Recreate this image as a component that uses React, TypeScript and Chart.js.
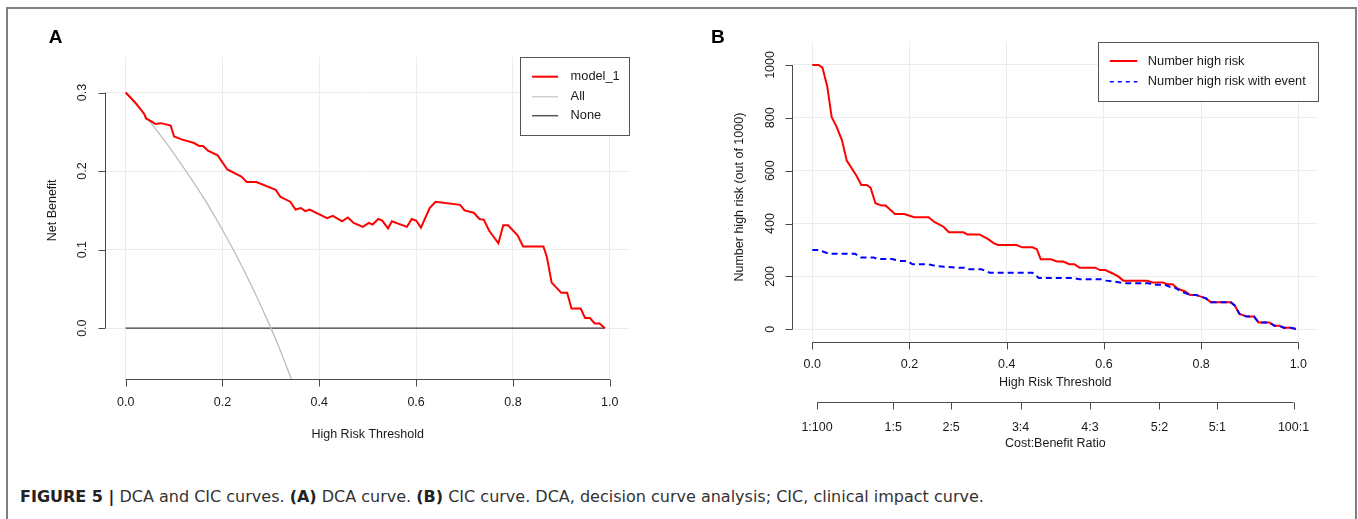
import React, { useEffect, useRef } from "react";
import { Chart, registerables } from "chart.js";

Chart.register(...registerables);

const FONT = "'Liberation Sans', Arial, Helvetica, sans-serif";
const AXIS_COLOR = "#4a4a4a";
const TEXT_COLOR = "#1a1a1a";
const GRID_COLOR = "#ececec";

// ---------------- Panel A : decision curve (DCA) ----------------
const thresholdsModel = [0, 0.02, 0.038, 0.042, 0.054, 0.061, 0.073, 0.093, 0.1, 0.117, 0.14, 0.152, 0.16, 0.17, 0.19, 0.21, 0.239, 0.25, 0.27, 0.31, 0.32, 0.34, 0.351, 0.362, 0.371, 0.38, 0.416, 0.428, 0.447, 0.459, 0.471, 0.49, 0.502, 0.51, 0.522, 0.53, 0.542, 0.55, 0.581, 0.591, 0.6, 0.61, 0.628, 0.64, 0.691, 0.7, 0.719, 0.731, 0.74, 0.751, 0.77, 0.78, 0.79, 0.81, 0.821, 0.863, 0.87, 0.88, 0.9, 0.912, 0.921, 0.94, 0.949, 0.959, 0.969, 0.979, 0.99];
const netBenefitModel = [0.3, 0.287, 0.273, 0.267, 0.263, 0.26, 0.261, 0.258, 0.244, 0.24, 0.236, 0.232, 0.232, 0.226, 0.22, 0.202, 0.193, 0.186, 0.186, 0.176, 0.167, 0.161, 0.151, 0.153, 0.149, 0.151, 0.14, 0.143, 0.136, 0.141, 0.134, 0.129, 0.134, 0.132, 0.139, 0.137, 0.127, 0.136, 0.129, 0.139, 0.137, 0.128, 0.153, 0.161, 0.157, 0.15, 0.147, 0.139, 0.138, 0.124, 0.108, 0.131, 0.131, 0.118, 0.104, 0.104, 0.091, 0.058, 0.045, 0.045, 0.025, 0.025, 0.013, 0.013, 0.006, 0.006, 0];
const thresholdsAll = [0, 0.02, 0.05, 0.08, 0.11, 0.14, 0.17, 0.2, 0.23, 0.26, 0.29, 0.31, 0.33, 0.35];
const netBenefitAll = [0.3, 0.286, 0.263, 0.239, 0.213, 0.186, 0.157, 0.125, 0.091, 0.054, 0.014, -0.014, -0.045, -0.077];
const thresholdsNone = [0, 0.99];
const netBenefitNone = [0, 0];
const xTicksA = [0, 0.2, 0.4, 0.6, 0.8, 1.0];
const xTickLabelsA = ["0.0", "0.2", "0.4", "0.6", "0.8", "1.0"];
const yTicksA = [0, 0.1, 0.2, 0.3];
const yTickLabelsA = ["0.0", "0.1", "0.2", "0.3"];
const legendLabelsA = ["model_1", "All", "None"];

// ---------------- Panel B : clinical impact curve (CIC) ----------------
const thresholdsHighRisk = [0, 0.013, 0.021, 0.031, 0.04, 0.05, 0.061, 0.071, 0.091, 0.101, 0.112, 0.12, 0.13, 0.143, 0.151, 0.17, 0.189, 0.21, 0.239, 0.252, 0.27, 0.281, 0.311, 0.319, 0.344, 0.361, 0.374, 0.382, 0.42, 0.432, 0.453, 0.462, 0.47, 0.491, 0.504, 0.516, 0.529, 0.539, 0.55, 0.582, 0.592, 0.603, 0.617, 0.63, 0.64, 0.689, 0.7, 0.722, 0.73, 0.741, 0.751, 0.768, 0.777, 0.789, 0.81, 0.82, 0.861, 0.869, 0.879, 0.894, 0.909, 0.918, 0.94, 0.951, 0.961, 0.97, 0.984, 0.995];
const numberHighRisk = [1000, 1000, 990, 918, 802, 767, 716, 638, 581, 546, 546, 536, 477, 468, 468, 436, 436, 424, 424, 405, 388, 367, 367, 359, 359, 342, 325, 319, 319, 310, 310, 303, 265, 265, 256, 256, 246, 246, 233, 233, 224, 224, 212, 199, 184, 184, 177, 177, 170, 170, 155, 142, 130, 130, 117, 102, 102, 90, 58, 48, 48, 26, 26, 13, 13, 6, 6, 0];
const thresholdsWithEvent = [0, 0.013, 0.034, 0.088, 0.1, 0.126, 0.134, 0.164, 0.18, 0.197, 0.206, 0.239, 0.252, 0.298, 0.313, 0.323, 0.348, 0.365, 0.453, 0.466, 0.537, 0.55, 0.596, 0.605, 0.63, 0.642, 0.693, 0.701, 0.726, 0.735, 0.743, 0.76, 0.777, 0.789, 0.81, 0.82, 0.861, 0.869, 0.879, 0.894, 0.909, 0.918, 0.94, 0.951, 0.961, 0.97, 0.984, 1.0];
const numberWithEvent = [300, 300, 286, 286, 272, 272, 266, 266, 258, 258, 246, 246, 240, 233, 233, 227, 227, 214, 214, 194, 194, 189, 189, 184, 178, 174, 174, 168, 168, 161, 161, 142, 130, 130, 117, 102, 102, 90, 58, 48, 48, 26, 26, 13, 13, 6, 6, 0];
const xTicksB = [0, 0.2, 0.4, 0.6, 0.8, 1.0];
const xTickLabelsB = ["0.0", "0.2", "0.4", "0.6", "0.8", "1.0"];
const yTicksB = [0, 200, 400, 600, 800, 1000];
const yTickLabelsB = ["0", "200", "400", "600", "800", "1000"];
const costBenefitThresholds = [0.0099, 0.1667, 0.2857, 0.4286, 0.5714, 0.7143, 0.8333, 0.9901];
const costBenefitLabels = ["1:100", "1:5", "2:5", "3:4", "4:3", "5:2", "5:1", "100:1"];
const legendLabelsB = ["Number high risk", "Number high risk with event"];

const pts = (xs: number[], ys: number[]) => xs.map((x, i) => ({ x, y: ys[i] }));

function text(ctx: CanvasRenderingContext2D, s: string, x: number, y: number, size: number, rotate = false, align: CanvasTextAlign = "center") {
  ctx.save();
  ctx.fillStyle = TEXT_COLOR;
  ctx.font = `${size}px ${FONT}`;
  ctx.textAlign = align;
  ctx.textBaseline = "middle";
  ctx.translate(x, y);
  if (rotate) ctx.rotate(-Math.PI / 2);
  ctx.fillText(s, 0, 0);
  ctx.restore();
}

function bottomAxis(ctx: CanvasRenderingContext2D, scale: any, y: number, values: number[], labels: string[], labelOff: number, title: string, titleOff: number) {
  const yy = Math.round(y) + 0.5;
  ctx.save();
  ctx.strokeStyle = AXIS_COLOR;
  ctx.lineWidth = 1;
  ctx.beginPath();
  ctx.moveTo(scale.getPixelForValue(values[0]), yy);
  ctx.lineTo(scale.getPixelForValue(values[values.length - 1]), yy);
  values.forEach((v) => {
    const px = Math.round(scale.getPixelForValue(v)) + 0.5;
    ctx.moveTo(px, yy);
    ctx.lineTo(px, yy + 7);
  });
  ctx.stroke();
  ctx.restore();
  values.forEach((v, i) => text(ctx, labels[i], scale.getPixelForValue(v), y + labelOff, 12.5));
  const mid = (scale.getPixelForValue(values[0]) + scale.getPixelForValue(values[values.length - 1])) / 2;
  text(ctx, title, mid, y + titleOff, 12.5);
}

function leftAxis(ctx: CanvasRenderingContext2D, scale: any, x: number, values: number[], labels: string[], labelOff: number, title: string, titleOff: number, titleY: number) {
  const xx = Math.round(x) - 0.5;
  ctx.save();
  ctx.strokeStyle = AXIS_COLOR;
  ctx.lineWidth = 1;
  ctx.beginPath();
  ctx.moveTo(xx, scale.getPixelForValue(values[0]));
  ctx.lineTo(xx, scale.getPixelForValue(values[values.length - 1]));
  values.forEach((v) => {
    const py = Math.round(scale.getPixelForValue(v)) + 0.5;
    ctx.moveTo(xx, py);
    ctx.lineTo(xx - 7, py);
  });
  ctx.stroke();
  ctx.restore();
  values.forEach((v, i) => text(ctx, labels[i], x - labelOff, scale.getPixelForValue(v), 12.5, true));
  text(ctx, title, x - titleOff, titleY, 12.5, true);
}

type LegendItem = { label: string; color: string; width: number; dash: number[] };

function legend(ctx: CanvasRenderingContext2D, right: number, top: number, w: number, h: number, items: LegendItem[], rowYs: number[], s0: number, s1: number, tx: number) {
  const left = right - w;
  ctx.save();
  ctx.fillStyle = "#ffffff";
  ctx.fillRect(left, top, w, h);
  ctx.strokeStyle = "#555555";
  ctx.lineWidth = 1;
  ctx.strokeRect(Math.round(left) + 0.5, Math.round(top) + 0.5, Math.round(w), Math.round(h));
  items.forEach((it, i) => {
    const y = top + rowYs[i];
    ctx.beginPath();
    ctx.strokeStyle = it.color;
    ctx.lineWidth = it.width;
    ctx.setLineDash(it.dash);
    ctx.moveTo(left + s0, y);
    ctx.lineTo(left + s1, y);
    ctx.stroke();
    ctx.setLineDash([]);
    text(ctx, it.label, left + tx, y, 12.8, false, "left");
  });
  ctx.restore();
}

const gridScale = (min: number, max: number, ticks: number[]) => ({
  type: "linear" as const,
  min,
  max,
  grid: { color: GRID_COLOR, lineWidth: 1, drawTicks: false },
  border: { display: false },
  ticks: { display: false },
  afterBuildTicks: (axis: any) => {
    axis.ticks = ticks.map((value) => ({ value }));
  },
});

const pluginA = {
  id: "rAxesA",
  afterDraw(chart: any) {
    const { ctx, chartArea, scales } = chart;
    bottomAxis(ctx, scales.x, chartArea.bottom, xTicksA, xTickLabelsA, 23.5, "High Risk Threshold", 55);
    leftAxis(ctx, scales.y, chartArea.left, yTicksA, yTickLabelsA, 24, "Net Benefit", 54, (scales.y.getPixelForValue(0) + scales.y.getPixelForValue(0.3)) / 2);
    legend(ctx, chartArea.right, chartArea.top, 109, 78, [
      { label: legendLabelsA[0], color: "#ff0000", width: 2, dash: [] },
      { label: legendLabelsA[1], color: "#cfcfcf", width: 1.5, dash: [] },
      { label: legendLabelsA[2], color: "#555555", width: 1.5, dash: [] },
    ], [19.7, 39.7, 58.7], 12, 38, 50.5);
  },
};

const pluginB = {
  id: "rAxesB",
  afterDraw(chart: any) {
    const { ctx, chartArea, scales } = chart;
    bottomAxis(ctx, scales.x, chartArea.bottom, xTicksB, xTickLabelsB, 22.6, "High Risk Threshold", 41);
    bottomAxis(ctx, scales.x, chartArea.bottom + 60, costBenefitThresholds, costBenefitLabels, 25.6, "Cost:Benefit Ratio", 42.3);
    leftAxis(ctx, scales.y, chartArea.left, yTicksB, yTickLabelsB, 22, "Number high risk (out of 1000)", 53, (scales.y.getPixelForValue(0) + scales.y.getPixelForValue(1000)) / 2);
    legend(ctx, chartArea.right, chartArea.top, 220, 59, [
      { label: legendLabelsB[0], color: "#ff0000", width: 2, dash: [] },
      { label: legendLabelsB[1], color: "#0000ff", width: 1.5, dash: [4, 4] },
    ], [19.3, 40], 12, 39.5, 50);
  },
};

export default function App() {
  const refA = useRef<HTMLCanvasElement>(null);
  const refB = useRef<HTMLCanvasElement>(null);

  useEffect(() => {
    const chartA = new Chart(refA.current as HTMLCanvasElement, {
      type: "line",
      data: {
        datasets: [
          { data: pts(thresholdsModel, netBenefitModel), borderColor: "#ff0000", borderWidth: 2, pointRadius: 0, tension: 0, order: 1 },
          { data: pts(thresholdsAll, netBenefitAll), borderColor: "#bdbdbd", borderWidth: 1.3, pointRadius: 0, cubicInterpolationMode: "monotone", order: 2 },
          { data: pts(thresholdsNone, netBenefitNone), borderColor: "#3a3a3a", borderWidth: 1.3, pointRadius: 0, tension: 0, order: 3 },
        ],
      },
      options: {
        animation: false,
        responsive: false,
        devicePixelRatio: 1,
        layout: { padding: { left: 106.3, right: 49.9, top: 57, bottom: 90.6 } },
        plugins: { legend: { display: false }, tooltip: { enabled: false } },
        scales: {
          x: gridScale(-0.04, 1.04, xTicksA),
          y: gridScale(-0.0652, 0.3452, yTicksA),
        },
      },
      plugins: [pluginA],
    } as any);

    const chartB = new Chart(refB.current as HTMLCanvasElement, {
      type: "line",
      data: {
        datasets: [
          { data: pts(thresholdsHighRisk, numberHighRisk), borderColor: "#ff0000", borderWidth: 2, pointRadius: 0, tension: 0, order: 2 },
          { data: pts(thresholdsWithEvent, numberWithEvent), borderColor: "#0000ff", borderWidth: 2, borderDash: [6, 4], pointRadius: 0, tension: 0, order: 1 },
        ],
      },
      options: {
        animation: false,
        responsive: false,
        devicePixelRatio: 1,
        layout: { padding: { left: 113.8, right: 40.2, top: 41.7, bottom: 128.3 } },
        plugins: { legend: { display: false }, tooltip: { enabled: false } },
        scales: {
          x: gridScale(-0.04, 1.04, xTicksB),
          y: gridScale(-47, 1088, yTicksB),
        },
      },
      plugins: [pluginB],
    } as any);

    return () => {
      chartA.destroy();
      chartB.destroy();
    };
  }, []);

  return (
    <div style={{ position: "absolute", left: 0, top: 0, width: 1358, height: 519, background: "#ffffff", overflow: "hidden", fontFamily: FONT }}>
      <div style={{ position: "absolute", left: 6, top: 7, width: 1347, height: 540, borderTop: "2px solid #808080", borderLeft: "2px solid #808080", borderRight: "2px solid #808080" }} />
      <canvas ref={refA} width={679} height={470} style={{ position: "absolute", left: 0, top: 0, display: "block" }} />
      <canvas ref={refB} width={679} height={470} style={{ position: "absolute", left: 679, top: 0, display: "block" }} />
      <div style={{ position: "absolute", left: 48.8, top: 27.4, fontSize: 19, lineHeight: "19px", fontWeight: "bold", color: "#000" }}>A</div>
      <div style={{ position: "absolute", left: 711, top: 27.4, fontSize: 19, lineHeight: "19px", fontWeight: "bold", color: "#000" }}>B</div>
      <div style={{ position: "absolute", left: 20, top: 489, fontSize: 16, lineHeight: "16px", color: "#333", whiteSpace: "nowrap", fontFamily: "'DejaVu Sans', " + FONT }}>
        <b style={{ color: "#222" }}>FIGURE 5 |</b> DCA and CIC curves. <b style={{ color: "#222" }}>(A)</b> DCA curve. <b style={{ color: "#222" }}>(B)</b> CIC curve. DCA, decision curve analysis; CIC, clinical impact curve.
      </div>
    </div>
  );
}
